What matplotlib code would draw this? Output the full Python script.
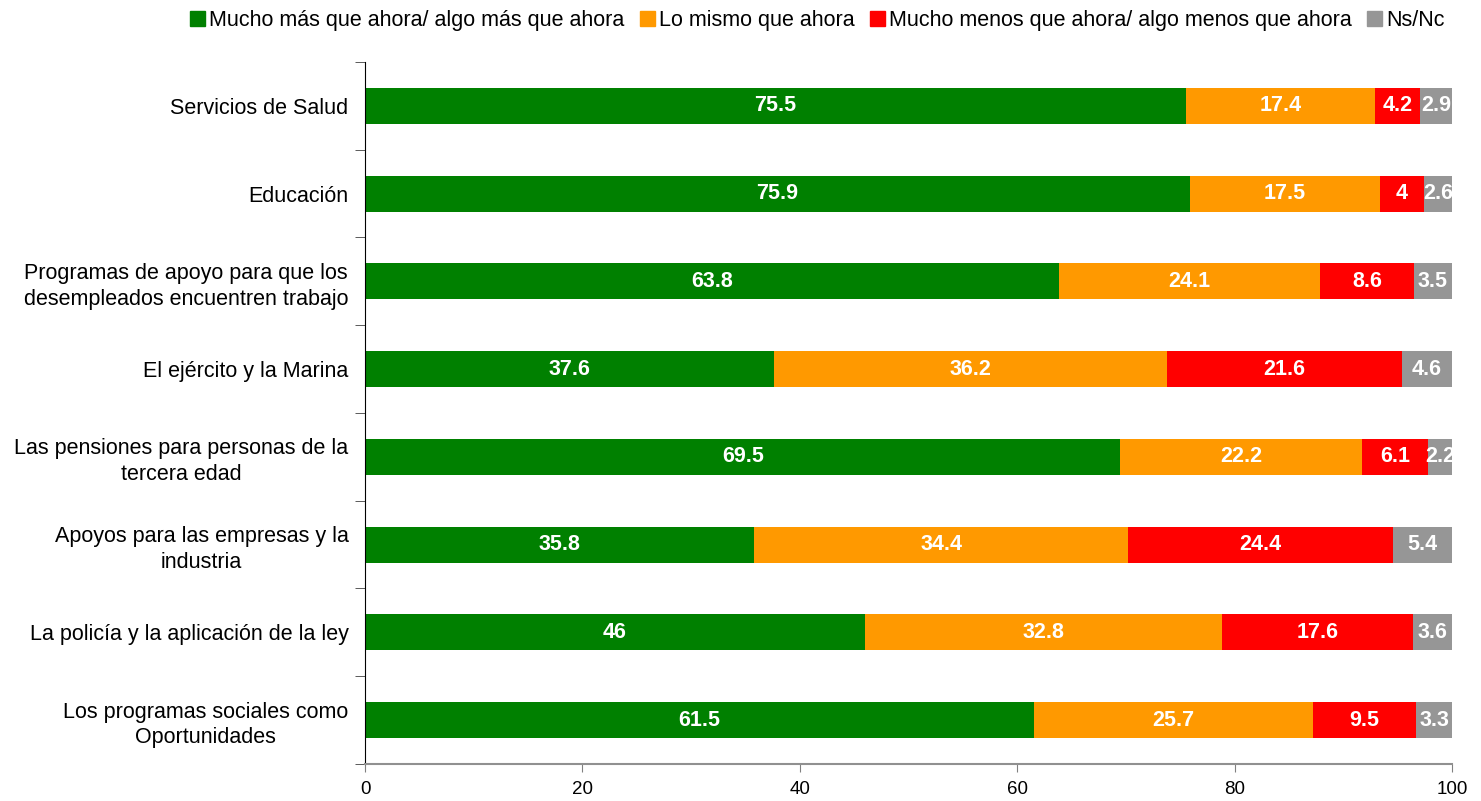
import numpy as np
import matplotlib.pyplot as plt
from matplotlib.patches import Patch

plt.rcParams['font.family'] = ['Liberation Sans', 'DejaVu Sans']

categorias = [
    "Servicios de Salud",
    "Educación",
    "Programas de apoyo para que los\ndesempleados encuentren trabajo",
    "El ejército y la Marina",
    "Las pensiones para personas de la\ntercera edad",
    "Apoyos para las empresas y la\nindustria",
    "La policía y la aplicación de la ley",
    "Los programas sociales como\nOportunidades",
]
mas = [75.5, 75.9, 63.8, 37.6, 69.5, 35.8, 46, 61.5]
igual = [17.4, 17.5, 24.1, 36.2, 22.2, 34.4, 32.8, 25.7]
menos = [4.2, 4, 8.6, 21.6, 6.1, 24.4, 17.6, 9.5]
nsnc = [2.9, 2.6, 3.5, 4.6, 2.2, 5.4, 3.6, 3.3]

series = [
    ("Mucho más que ahora/ algo más que ahora", mas, "#008000"),
    ("Lo mismo que ahora", igual, "#FF9900"),
    ("Mucho menos que ahora/ algo menos que ahora", menos, "#FF0000"),
    ("Ns/Nc", nsnc, "#969696"),
]

fig = plt.figure(figsize=(14.81, 8.01), dpi=100)
ax = fig.add_axes([0.2465, 0.0462, 0.7339, 0.8764])

y = np.arange(len(categorias))
left = np.zeros(len(categorias))
for nombre, vals, color in series:
    vals = np.array(vals, dtype=float)
    ax.barh(y, vals, left=left, height=0.41, color=color, label=nombre)
    for yi, l, v in zip(y, left, vals):
        ax.text(l + v / 2, yi, f"{v:g}", ha='center', va='center',
                color='white', fontweight='bold', fontsize=15.5, clip_on=False)
    left += vals

ax.set_xlim(0, 100)
ax.set_ylim(len(categorias) - 0.5, -0.5)
ax.set_yticks(y)
ax.set_yticklabels(categorias, fontsize=15.5, ha='right', multialignment='center',
                   linespacing=1.3)
ax.tick_params(axis='y', length=0, pad=12)
ax.set_yticks(np.arange(-0.5, len(categorias)), minor=True)
ax.tick_params(axis='y', which='minor', length=7, color='#404040', direction='out')
ax.set_xticks(np.arange(0, 101, 20))
ax.tick_params(axis='x', labelsize=13.5, length=6, color='#808080', pad=6)

for s in ['top', 'right']:
    ax.spines[s].set_visible(False)
ax.spines['left'].set_color('black')
ax.spines['bottom'].set_color('#909090')
ax.spines['bottom'].set_linewidth(1.5)

handles = [Patch(color=c, label=n) for n, _, c in series]
fig.legend(handles=handles, loc='upper center', bbox_to_anchor=(0.552, 1.012), ncol=4,
           frameon=False, fontsize=15.5, handlelength=0.7, handleheight=0.7,
           handletextpad=0.2, columnspacing=0.7)

fig.savefig("out.png", dpi=100)
